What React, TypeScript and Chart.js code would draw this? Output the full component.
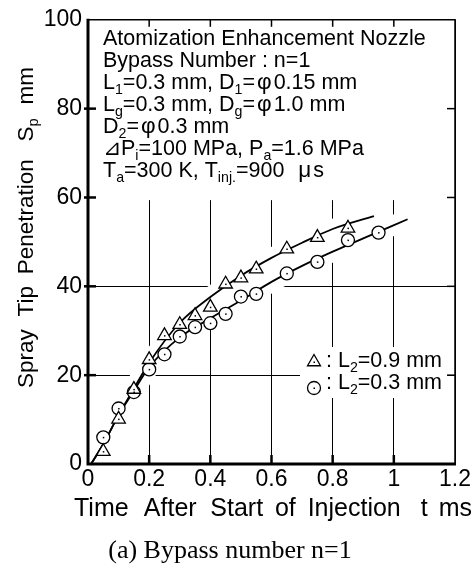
import React, { useEffect, useRef } from "react";
import { Chart, registerables } from "chart.js";
Chart.register(...registerables);

// ---- data ----
const triTime = [0.05, 0.1, 0.15, 0.2, 0.25, 0.3, 0.35, 0.4, 0.45, 0.5, 0.55, 0.65, 0.75, 0.85];
const triPen = [2.8, 10.1, 16.8, 23.5, 28.9, 31.4, 33.4, 35.3, 40.5, 41.9, 43.9, 48.4, 51.0, 53.1];
const cirTime = [0.05, 0.1, 0.15, 0.2, 0.25, 0.3, 0.35, 0.4, 0.45, 0.5, 0.55, 0.65, 0.75, 0.85, 0.95];
const cirPen = [6.0, 12.5, 16.2, 21.3, 24.7, 28.7, 30.8, 31.7, 33.8, 37.7, 38.3, 42.9, 45.5, 50.4, 52.1];
const fitTriTime = [0.01, 0.05, 0.1, 0.15, 0.2, 0.3, 0.4, 0.5, 0.6, 0.7, 0.8, 0.935];
const fitTriPen = [0, 4.5, 11, 17, 22.8, 31.8, 37.6, 42.4, 46.4, 49.8, 52.9, 55.8];
const fitCirTime = [0.01, 0.05, 0.1, 0.15, 0.2, 0.3, 0.4, 0.5, 0.6, 0.7, 0.8, 0.9, 1.045];
const fitCirPen = [0, 4.5, 11, 16.5, 21.8, 28.5, 32.8, 36.8, 41.0, 44.6, 47.8, 50.8, 55.1];

const xTicks = [0, 0.2, 0.4, 0.6, 0.8, 1, 1.2];
const yTicks = [0, 20, 40, 60, 80, 100];

// rich text lines: [text, kind] kind 0 normal, 1 subscript, 2 spaced symbol
type Seg = [string, number];
const infoLines: Seg[][] = [
  [["Atomization Enhancement Nozzle", 0]],
  [["Bypass Number : n=1", 0]],
  [["L", 0], ["1", 1], ["=0.3 mm, D", 0], ["1", 1], ["=", 0], ["φ", 2], ["0.15 mm", 0]],
  [["L", 0], ["g", 1], ["=0.3 mm, D", 0], ["g", 1], ["=", 0], ["φ", 2], ["1.0 mm", 0]],
  [["D", 0], ["2", 1], ["=", 0], ["φ", 2], ["0.3 mm", 0]],
  [["⊿P", 0], ["i", 1], ["=100 MPa, P", 0], ["a", 1], ["=1.6 MPa", 0]],
  [["T", 0], ["a", 1], ["=300 K, T", 0], ["inj.", 1], ["=900  ", 0], ["μ", 2], ["s", 0]],
];
const legendLines: Seg[][] = [
  [[": L", 0], ["2", 1], ["=0.9 mm", 0]],
  [[": L", 0], ["2", 1], ["=0.3 mm", 0]],
];
const xTitleWords: Seg[][] = [
  [["Time", 0]], [["After", 0]], [["Start", 0]], [["of", 0]], [["Injection", 0]], [["t", 0]], [["ms", 0]],
];
const xTitleGaps = [16.7, 15, 13, 13, 22, 12];
const yTitleWords: Seg[][] = [
  [["Spray", 0]], [["Tip", 0]], [["Penetration", 0]], [["S", 0], ["p", 1]], [["mm", 0]],
];
const yTitleGaps = [13, 12, 18, 14];
const caption = "(a) Bypass number n=1";

const FONT = "'Liberation Sans', Arial, Helvetica, sans-serif";

function setFont(ctx: CanvasRenderingContext2D, k: number, size: number) {
  const fs = k === 1 ? size * 0.66 : k === 2 ? size * 1.05 : size;
  ctx.font = `${fs}px ${FONT}`;
}
function segW(ctx: CanvasRenderingContext2D, t: string, k: number) {
  return ctx.measureText(t).width + (k === 2 ? 4 : 0);
}
function segWidth(ctx: CanvasRenderingContext2D, segs: Seg[], size: number) {
  let w = 0;
  for (const [t, k] of segs) {
    setFont(ctx, k, size);
    w += segW(ctx, t, k);
  }
  return w;
}
function drawRich(ctx: CanvasRenderingContext2D, x: number, y: number, segs: Seg[], size: number) {
  let cx = x;
  for (const [t, k] of segs) {
    setFont(ctx, k, size);
    ctx.fillText(t, cx + (k === 2 ? 2 : 0), k === 1 ? y + size * 0.22 : y);
    cx += segW(ctx, t, k);
  }
  return cx - x;
}
function drawSpread(ctx: CanvasRenderingContext2D, words: Seg[][], gaps: number[], x0: number, x1: number, y: number, size: number) {
  const ws = words.map((w) => segWidth(ctx, w, size));
  const total = ws.reduce((a, b) => a + b, 0);
  const gsum = gaps.reduce((a, b) => a + b, 0);
  const k = (x1 - x0 - total) / gsum;
  let cx = x0;
  words.forEach((w, i) => {
    drawRich(ctx, cx, y, w, size);
    cx += ws[i] + (i < gaps.length ? gaps[i] * k : 0);
  });
}

function triangle(ctx: CanvasRenderingContext2D, x: number, y: number, r: number) {
  ctx.beginPath();
  ctx.moveTo(x, y - r);
  ctx.lineTo(x + r * 0.866, y + r * 0.5);
  ctx.lineTo(x - r * 0.866, y + r * 0.5);
  ctx.closePath();
  ctx.fill();
  ctx.stroke();
}

const customPlugin = {
  id: "custom",
  beforeDatasetsDraw(chart: any) {
    const { ctx, chartArea: a, scales } = chart;
    const y = scales.y;
    ctx.save();
    ctx.beginPath();
    ctx.rect(a.left, a.top, a.right - a.left, a.bottom - a.top);
    ctx.clip();
    ctx.fillStyle = "#fff";
    // info box
    ctx.fillRect(a.left, a.top, a.right - a.left, y.getPixelForValue(59.4) - a.top);
    // legend box
    ctx.fillRect(300, 347, 148, 51);
    // band around fitted curves
    const m0 = chart.getDatasetMeta(0).data;
    const m1 = chart.getDatasetMeta(1).data;
    ctx.beginPath();
    m0.forEach((p: any, i: number) => (i ? ctx.lineTo(p.x, p.y) : ctx.moveTo(p.x, p.y)));
    for (let i = m1.length - 1; i >= 0; i--) ctx.lineTo(m1[i].x, m1[i].y);
    ctx.closePath();
    ctx.fill();
    ctx.strokeStyle = "#fff";
    ctx.lineWidth = 20;
    ctx.lineJoin = "round";
    ctx.lineCap = "round";
    for (const m of [m0, m1]) {
      ctx.beginPath();
      m.forEach((p: any, i: number) => (i ? ctx.lineTo(p.x, p.y) : ctx.moveTo(p.x, p.y)));
      ctx.stroke();
    }
    ctx.restore();
  },
  afterDatasetsDraw(chart: any) {
    const { ctx } = chart;
    ctx.save();
    ctx.fillStyle = "#000";
    for (const idx of [2, 3]) {
      chart.getDatasetMeta(idx).data.forEach((p: any) => ctx.fillRect(p.x - 0.5, p.y - 0.5, 1.5, 1.5));
    }
    ctx.restore();
  },
  afterDraw(chart: any) {
    const { ctx, chartArea: a, scales } = chart;
    const x = scales.x, y = scales.y;
    ctx.save();
    ctx.strokeStyle = "#000";
    ctx.fillStyle = "#000";
    // inward ticks
    ctx.lineWidth = 1.5;
    for (const v of xTicks.slice(1, -1)) {
      const px = x.getPixelForValue(v);
      ctx.beginPath(); ctx.moveTo(px, a.top); ctx.lineTo(px, a.top + 7); ctx.stroke();
    }
    for (const v of yTicks.slice(1, -1)) {
      const py = y.getPixelForValue(v);
      ctx.beginPath(); ctx.moveTo(a.right, py); ctx.lineTo(a.right - 8, py); ctx.stroke();
    }
    ctx.lineWidth = 2.5;
    for (const v of xTicks.slice(1, -1)) {
      const px = x.getPixelForValue(v);
      ctx.beginPath(); ctx.moveTo(px, a.bottom); ctx.lineTo(px, a.bottom - 9); ctx.stroke();
    }
    for (const v of yTicks.slice(1, -1)) {
      const py = y.getPixelForValue(v);
      ctx.beginPath(); ctx.moveTo(a.left - 4, py); ctx.lineTo(a.left + 8, py); ctx.stroke();
    }
    // frame
    ctx.lineWidth = 1.5;
    ctx.beginPath();
    ctx.moveTo(a.left, a.top); ctx.lineTo(a.right, a.top); ctx.lineTo(a.right, a.bottom);
    ctx.stroke();
    ctx.lineWidth = 3;
    ctx.beginPath();
    ctx.moveTo(a.left, a.top - 1); ctx.lineTo(a.left, a.bottom); ctx.lineTo(a.right + 1, a.bottom);
    ctx.stroke();

    // info text
    ctx.textAlign = "left";
    ctx.textBaseline = "alphabetic";
    infoLines.forEach((line, i) => drawRich(ctx, 103, 45 + i * 22, line, 21.5));

    // legend
    ctx.lineWidth = 1.3;
    ctx.fillStyle = "#fff";
    triangle(ctx, 314, 362, 7.5);
    ctx.beginPath(); ctx.arc(314, 388, 6.5, 0, Math.PI * 2); ctx.fill(); ctx.stroke();
    ctx.fillStyle = "#000";
    ctx.fillRect(313.5, 361.5, 1.5, 1.5);
    ctx.fillRect(313.5, 387.5, 1.5, 1.5);
    drawRich(ctx, 326, 367, legendLines[0], 21.5);
    drawRich(ctx, 326, 389, legendLines[1], 21.5);

    // x title
    drawSpread(ctx, xTitleWords, xTitleGaps, 74, 472, 516, 25);
    // y title
    ctx.save();
    ctx.translate(33, 388);
    ctx.rotate(-Math.PI / 2);
    drawSpread(ctx, yTitleWords, yTitleGaps, 0, 321, 0, 22.5);
    ctx.restore();

    // caption
    ctx.font = "26px 'Liberation Serif', 'Times New Roman', serif";
    ctx.textAlign = "center";
    ctx.fillText(caption, 230, 558);
    ctx.restore();
  },
};

export default function App() {
  const ref = useRef<HTMLCanvasElement | null>(null);
  useEffect(() => {
    if (!ref.current) return;
    const toXY = (xs: number[], ys: number[]) => xs.map((v, i) => ({ x: v, y: ys[i] }));
    const chart = new Chart(ref.current, {
      type: "scatter",
      data: {
        datasets: [
          {
            data: toXY(fitTriTime, fitTriPen), showLine: true, pointRadius: 0, borderColor: "#000",
            borderWidth: 1.8, cubicInterpolationMode: "monotone", order: 3,
          },
          {
            data: toXY(fitCirTime, fitCirPen), showLine: true, pointRadius: 0, borderColor: "#000",
            borderWidth: 1.8, cubicInterpolationMode: "monotone", order: 3,
          },
          {
            data: toXY(triTime, triPen), showLine: false, pointStyle: "triangle", pointRadius: 7.8,
            pointBackgroundColor: "#fff", pointBorderColor: "#000", pointBorderWidth: 1.3, order: 1,
          },
          {
            data: toXY(cirTime, cirPen), showLine: false, pointStyle: "circle", pointRadius: 6.5,
            pointBackgroundColor: "#fff", pointBorderColor: "#000", pointBorderWidth: 1.3, order: 2,
          },
        ] as any,
      },
      options: {
        animation: false,
        responsive: false,
        events: [],
        layout: { padding: { left: 0, right: 20, top: 18, bottom: 0 } },
        plugins: { legend: { display: false }, tooltip: { enabled: false } },
        scales: {
          x: {
            type: "linear", min: 0, max: 1.2,
            afterBuildTicks: (s: any) => { s.ticks = xTicks.map((v) => ({ value: v })); },
            afterFit: (s: any) => { s.height = 105; },
            ticks: { color: "#000", font: { size: 23, family: FONT }, padding: 2, maxRotation: 0,
              callback: (v: any) => String(Math.round(Number(v) * 10) / 10) },
            grid: { color: "#000", lineWidth: 1, drawTicks: false },
            border: { display: false },
          },
          y: {
            type: "linear", min: 0, max: 100,
            afterBuildTicks: (s: any) => { s.ticks = yTicks.map((v) => ({ value: v })); },
            afterFit: (s: any) => { s.width = 88; },
            ticks: { color: "#000", font: { size: 23, family: FONT }, padding: 6 },
            grid: { color: "#000", lineWidth: 1, drawTicks: false },
            border: { display: false },
          },
        },
      } as any,
      plugins: [customPlugin],
    });
    return () => chart.destroy();
  }, []);
  return (
    <div style={{ position: "absolute", left: 0, top: 0, width: 475, height: 569, background: "#fff" }}>
      <canvas ref={ref} width={475} height={569} style={{ width: 475, height: 569, display: "block" }} />
    </div>
  );
}
